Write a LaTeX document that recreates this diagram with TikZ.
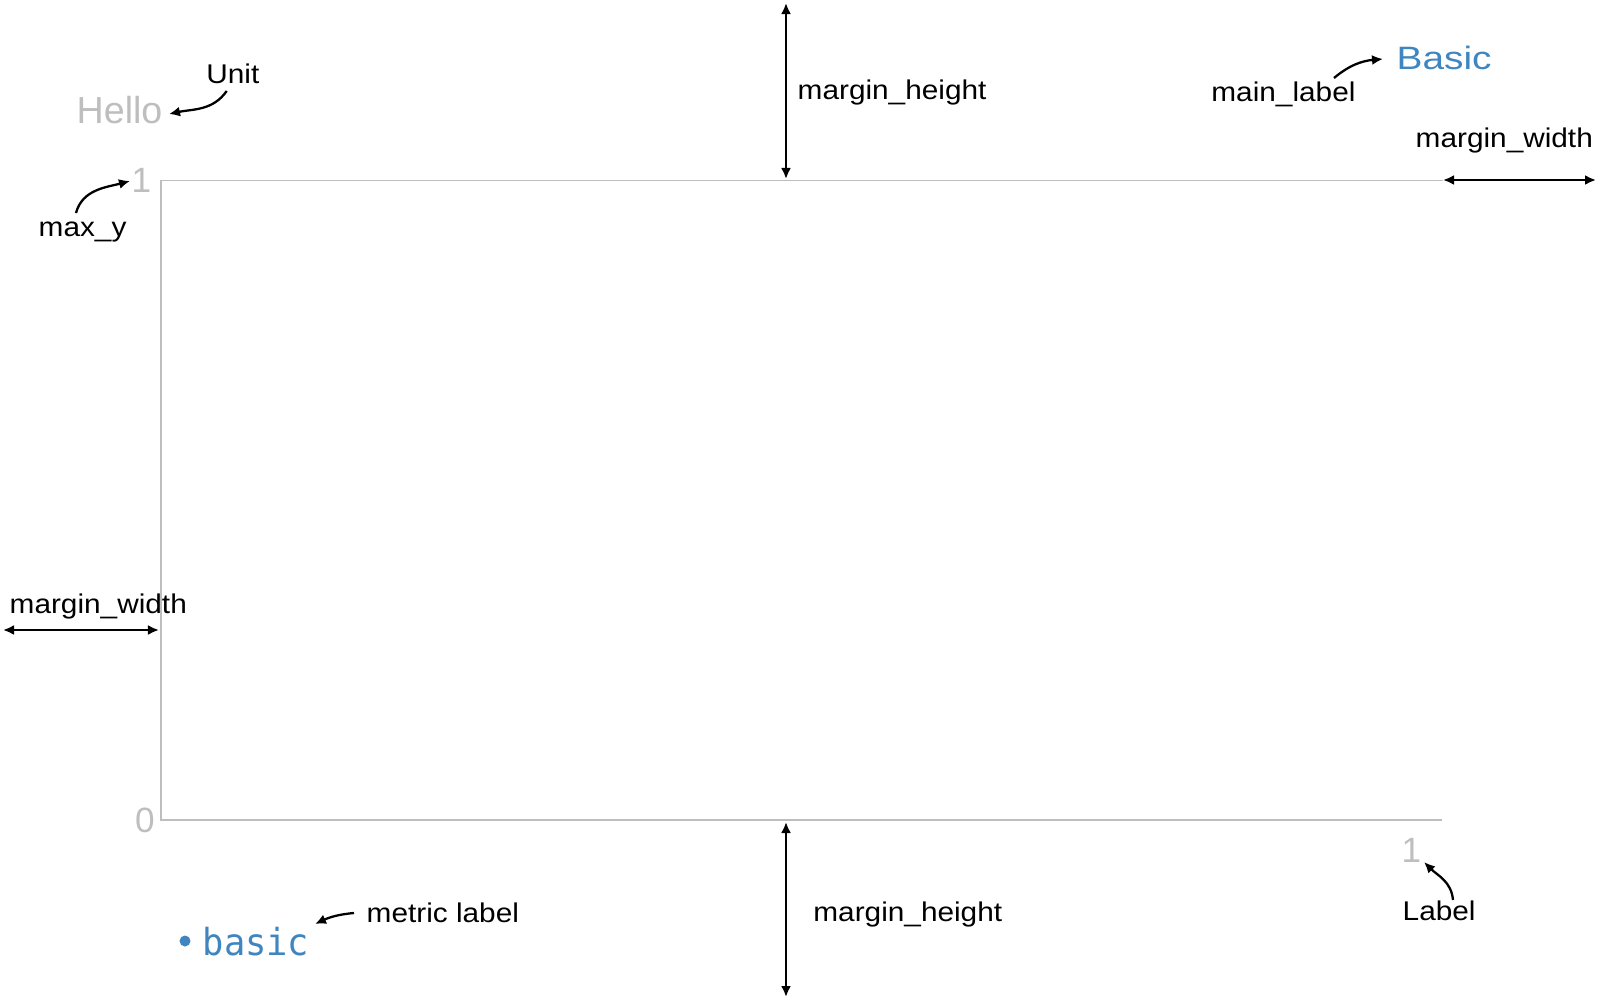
\documentclass[tikz,border=0pt]{standalone}
\usepackage{fontspec}
\setmainfont{Liberation Sans}
\newfontfamily\lblfont{Liberation Sans}[FakeStretch=1.1]
\newfontfamily\bigfont{Liberation Sans}
\newfontfamily\basicfont{Liberation Sans}[FakeStretch=1.2]
\newfontfamily\monofont{DejaVu Sans Mono}[FakeStretch=0.95]
\usetikzlibrary{arrows.meta,calc}
\definecolor{axisgray}{HTML}{BEBEBE}
\definecolor{legblue}{HTML}{3F86C0}
\begin{document}
\begin{tikzpicture}[x=0.01cm,y=-0.01cm,
  lbl/.style={inner sep=0pt,anchor=base west,font={\lblfont\fontsize{7.7pt}{9pt}\selectfont}},
  digit/.style={inner sep=0pt,anchor=center,text=axisgray,font={\bigfont\fontsize{10pt}{11pt}\selectfont}},
  axisline/.style={draw=axisgray,line width=0.55pt},
  dim/.style={line width=0.65pt,{Latex[length=1.1mm,width=1.0mm]}-{Latex[length=1.1mm,width=1.0mm]}},
  conn/.style={line width=0.65pt,-{Latex[length=1.1mm,width=1.0mm]}}]
\useasboundingbox (0,0) rectangle (1600,1000);

% plot frame
\coordinate (tl) at (161,180.5);
\coordinate (tr) at (1443,180.5);
\coordinate (bl) at (161,820);
\coordinate (br) at (1442,820);
\draw[axisline] (tr) -- (tl) -- (bl) -- (br);

% axis labels
\node[digit] (ymax) at (141.5,180.5) {1};
\node[digit] (ymin) at (145,820.5) {0};
\node[digit] (xmax) at (1411.5,850.5) {1};

% title texts
\node[inner sep=0pt,anchor=base west,text=axisgray,font={\bigfont\fontsize{10.7pt}{12pt}\selectfont}] (hello) at (76,123) {Hello};
\node[inner sep=0pt,anchor=base west,text=legblue,font={\basicfont\fontsize{9.2pt}{10pt}\selectfont}] (Basic) at (1396,69) {Basic};
\node[inner sep=0pt,anchor=base west,text=legblue,font={\monofont\fontsize{10.6pt}{12pt}\selectfont}] (basic) at (202,955) {basic};
\fill[legblue] (185,941) circle (5.5);

% annotation labels
\node[lbl] (unit) at (205.7,83) {Unit};
\node[lbl] (maxy) at (38,236.5) {max\_y};
\node[lbl] (mainlabel) at (1210.7,101.7) {main\_label};
\node[lbl] (mhtop) at (797,99.3) {margin\_height};
\node[lbl] (mwright) at (1415,147) {margin\_width};
\node[lbl] (mwleft) at (9,613.3) {margin\_width};
\node[lbl] (mhbot) at (812.7,921.7) {margin\_height};
\node[lbl] (metric) at (366,922.7) {metric label};
\node[lbl] (xlabel) at (1402,920) {Label};

% dimension arrows
\coordinate (topedge) at (786,3);
\coordinate (topaxis) at (786,179);
\coordinate (botaxis) at (786,822);
\coordinate (botedge) at (786,997);
\coordinate (leftedge) at (3,630);
\coordinate (leftaxis) at (159,630);
\coordinate (rightaxis) at (1443,180);
\coordinate (rightedge) at (1596,180);
\draw[dim] (topedge) -- (topaxis);
\draw[dim] (botaxis) -- (botedge);
\draw[dim] (leftedge) -- (leftaxis);
\draw[dim] (rightaxis) -- (rightedge);

% curved annotation arrows
\draw[conn] ($(unit.base west)+(21,8)$) to[out=-125,in=12] ($(hello.base west)+(93,-9)$);
\draw[conn] ($(maxy.base west)+(38,-23.5)$) to[out=75,in=195] ($(ymax.center)+(-11.5,0.5)$);
\draw[conn] ($(mainlabel.base west)+(123.3,-23.7)$) to[out=40,in=185] ($(Basic.base west)+(-13,-10)$);
\draw[conn] ($(metric.base west)+(-12,-9.7)$) to[out=185,in=25] ($(basic.base west)+(113,-31)$);
\draw[conn] ($(xlabel.base west)+(51,-20)$) to[out=95,in=-45] ($(xmax.center)+(12.5,11.5)$);
\end{tikzpicture}
\end{document}
